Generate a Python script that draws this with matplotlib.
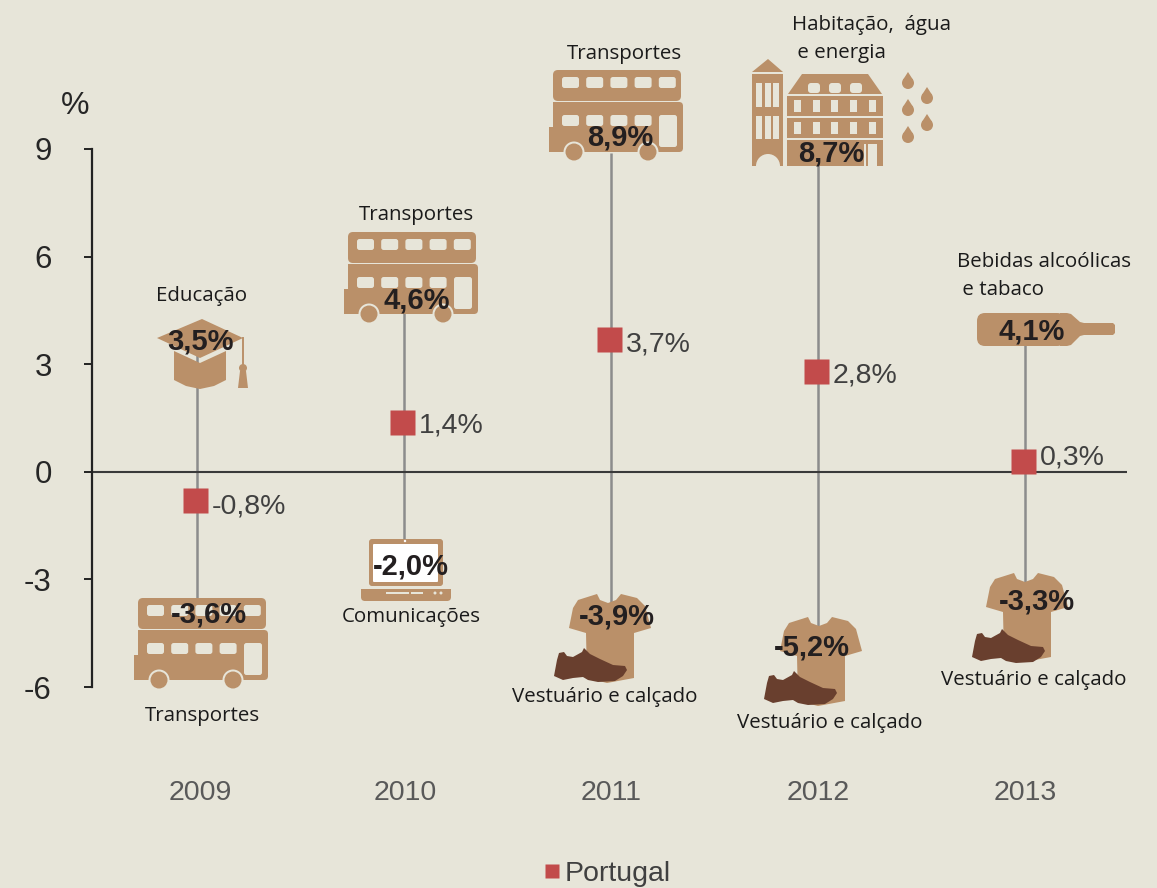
#!/usr/bin/env python3
import numpy as np
import matplotlib
matplotlib.use('Agg')
import matplotlib.pyplot as plt
from matplotlib.patches import Polygon, Rectangle, Circle, FancyBboxPatch, Wedge

# data
years = ['2009', '2010', '2011', '2012', '2013']
portugal = [-0.8, 1.4, 3.7, 2.8, 0.3]
highest = [3.5, 4.6, 8.9, 8.7, 4.1]
lowest = [-3.6, -2.0, -3.9, -5.2, -3.3]
high_names = ['Educação', 'Transportes', 'Transportes', 'Habitação,  água\n e energia',
              'Bebidas alcoólicas\n e tabaco']
low_names = ['Transportes', 'Comunicações', 'Vestuário e calçado', 'Vestuário e calçado',
             'Vestuário e calçado']
yticks = [-6, -3, 0, 3, 6, 9]

BG = '#E7E5D9'
ICON = '#BA9069'
SHOE = '#693F2E'
RED = '#C24B4B'
W, H = 1157, 888


def pct(v):
    return f'{v:.1f}%'.replace('.', ',')


def rect(ov, x, y, w, h, color=ICON, r=0.0, z=2):
    if r > 0:
        ov.add_patch(FancyBboxPatch((x + r, y + r), w - 2 * r, h - 2 * r,
                                    boxstyle=f'round,pad={r},rounding_size={r}',
                                    fc=color, ec='none', zorder=z))
    else:
        ov.add_patch(Rectangle((x, y), w, h, fc=color, ec='none', zorder=z))


def poly(ov, pts, color=ICON, z=2):
    ov.add_patch(Polygon(pts, closed=True, fc=color, ec='none', zorder=z))


def draw_bus(ov, x, y):
    rect(ov, x + 4, y, 128, 31, r=5)
    rect(ov, x + 4, y + 32, 130, 50, r=4)
    rect(ov, x + 4, y + 32, 60, 10)
    rect(ov, x + 60, y + 32, 70, 8)
    rect(ov, x, y + 57, 8, 25)
    for i in range(5):
        rect(ov, x + 13 + i * 24.2, y + 7, 17, 11, BG, r=2.5, z=3)
    for i in range(4):
        rect(ov, x + 13 + i * 24.2, y + 45, 17, 11, BG, r=2.5, z=3)
    rect(ov, x + 110, y + 45, 18, 32, BG, r=2.5, z=3)
    for wx in (25, 99):
        ov.add_patch(Circle((x + wx, y + 82), 10.5, fc=BG, ec='none', zorder=3))
        ov.add_patch(Circle((x + wx, y + 82), 8.5, fc=ICON, ec='none', zorder=4))


def draw_cap(ov):
    base = [(174, 351), (200, 363), (226, 351), (226, 380), (214, 386), (200, 389),
            (186, 386), (174, 380)]
    poly(ov, base)
    poly(ov, [(157, 338), (202, 319), (243, 338), (200, 358)])
    ov.plot([243, 243], [338, 368], color=ICON, lw=1.4, zorder=2)
    ov.add_patch(Circle((243, 368), 4, fc=ICON, ec='none', zorder=2))
    poly(ov, [(240, 371), (246, 371), (248, 388), (238, 388)])


def draw_laptop(ov):
    rect(ov, 369, 539, 74, 47, r=3)
    rect(ov, 373, 544, 65, 38, 'white', r=1, z=3)
    rect(ov, 361, 589, 90, 12, r=4)
    rect(ov, 361, 589, 90, 5)
    rect(ov, 386, 592, 23, 2, BG, z=3)
    rect(ov, 411, 592, 12, 2, BG, z=3)
    for dx in (435, 441):
        ov.add_patch(Circle((dx, 593), 1.5, fc=BG, ec='none', zorder=3))
    ov.add_patch(Circle((405, 541), 1.2, fc='white', ec='none', zorder=3))


def draw_shirt(ov, x, y):
    pts = [(28, 0), (31, 6), (39, 9), (47, 6), (52, 0), (68, 4), (76, 12), (82, 34),
           (65, 39), (65, 84), (38, 89), (18, 84), (17, 39), (0, 34), (4, 14), (9, 6)]
    poly(ov, [(x + a, y + b) for a, b in pts])


def draw_shoe(ov, x, y):
    pts = [(0, 28), (3, 12), (5, 5), (10, 4), (13, 8), (19, 9), (28, 4), (30, 0), (36, 6),
           (46, 11), (59, 17), (71, 18), (73, 22), (69, 28), (61, 33), (44, 34), (34, 32),
           (29, 29), (19, 30), (9, 32)]
    poly(ov, [(x + a, y + b) for a, b in pts], SHOE, z=3)


def draw_bottle(ov):
    rect(ov, 977, 313, 88, 33, r=8)
    poly(ov, [(1060, 313), (1067, 313), (1071, 314), (1080, 322), (1084, 323), (1113, 323),
              (1115, 325), (1115, 333), (1113, 335), (1084, 335), (1080, 336), (1071, 345),
              (1067, 346), (1060, 346)])


def draw_building(ov):
    # tower
    rect(ov, 752, 74, 31, 92)
    poly(ov, [(752, 72), (768, 59), (783, 72)])
    for wx in (756, 765, 773):
        rect(ov, wx, 83, 6, 24, BG, z=3)
        rect(ov, wx, 116, 6, 23, BG, z=3)
    ov.add_patch(Wedge((768, 166), 12, 180, 360, fc=BG, ec='none', zorder=3))
    # main house
    poly(ov, [(788, 94), (802, 74), (868, 74), (882, 94)])
    for dx in (808, 829, 850):
        rect(ov, dx, 83, 12, 10, BG, r=3, z=3)
    rect(ov, 787, 96, 96, 20)
    rect(ov, 787, 118, 96, 20)
    rect(ov, 787, 140, 96, 26)
    for wx in (794, 813, 831, 850, 869):
        rect(ov, wx, 100, 7, 12, BG, z=3)
        rect(ov, wx, 122, 7, 12, BG, z=3)
    rect(ov, 864, 144, 13, 22, BG, z=3)
    rect(ov, 866, 144, 1.5, 22, z=4)


def draw_drops(ov):
    for cx, cy in [(908, 83), (908, 110), (908, 137), (927, 98), (927, 125)]:
        ov.add_patch(Circle((cx, cy), 6, fc=ICON, ec='none', zorder=2))
        poly(ov, [(cx - 5.4, cy - 2.6), (cx, cy - 11), (cx + 5.4, cy - 2.6)])


fig = plt.figure(figsize=(W / 100, H / 100), dpi=100, facecolor=BG)

# data axes, placed so the scale falls on the reference pixels
x_left, x_right, y_top, y_bot = 92, 1127, 149, 687
ax = fig.add_axes([x_left / W, 1 - y_bot / H, (x_right - x_left) / W, (y_bot - y_top) / H])
ax.set_facecolor('none')
x0, step = 197, 207
ax.set_xlim((x_left - x0) / step, (x_right - x0) / step)
ax.set_ylim(-6, 9)
xs = np.arange(len(years))

ax.vlines(xs, lowest, highest, color='#8C8C8C', lw=1.8, zorder=1)
ax.axhline(0, color='#3A3A3A', lw=1.5, zorder=2)
ax.plot(xs - 0.009, portugal, ls='none', marker='s', ms=18, mfc=RED, mec='none', zorder=3,
        label='Portugal')

for s in ('top', 'right', 'bottom'):
    ax.spines[s].set_visible(False)
ax.spines['left'].set_color('#222222')
ax.spines['left'].set_linewidth(1.6)
ax.set_yticks(yticks)
ax.tick_params(axis='y', length=6, width=1.4, color='#222222', pad=23, labelsize=22.5,
               labelcolor='#262626', labelfontfamily='Liberation Sans')
ax.yaxis.set_major_formatter(plt.FuncFormatter(lambda v, p: f'{v:.0f}'))
# the year labels do not sit quite under the stems in the reference
ax.set_xticks(xs + np.array([0.015, 0.007, 0, 0, 0]))
ax.set_xticklabels(years, fontsize=20.5, color='#595959', family='Liberation Sans')
ax.tick_params(axis='x', length=0, pad=67)

# portugal value labels, offset from the marker in pixels
value_dy = [6, 3.5, 5.5, 4.5, -3.5]
for x, v, dy in zip(xs, portugal, value_dy):
    ax.annotate(pct(v), (x, v), xytext=(15 * 0.72, -dy * 0.72), textcoords='offset points',
                ha='left', va='center', fontsize=20.5, color='#404040',
                family='Liberation Sans', zorder=4)

leg = ax.legend(loc='center left', bbox_to_anchor=(538 / W, 1 - 874 / H),
                bbox_transform=fig.transFigure, frameon=False, markerscale=0.55,
                handlelength=1.0, handletextpad=-0.05, borderpad=0, borderaxespad=0,
                prop={'family': 'Liberation Sans', 'size': 20.5})
for t in leg.get_texts():
    t.set_color('#404040')

# overlay in pixel coordinates for the pictograms and their captions
ov = fig.add_axes([0, 0, 1, 1])
ov.set_xlim(0, W)
ov.set_ylim(H, 0)
ov.axis('off')
ov.patch.set_alpha(0)

draw_cap(ov)
draw_bus(ov, 344, 232)
draw_bus(ov, 549, 70)
draw_building(ov)
draw_drops(ov)
draw_bottle(ov)
draw_bus(ov, 134, 598)
draw_laptop(ov)
draw_shirt(ov, 569, 594)
draw_shoe(ov, 554, 648)
draw_shirt(ov, 780, 617)
draw_shoe(ov, 764, 671)
draw_shirt(ov, 986, 573)
draw_shoe(ov, 972, 629)

high_pos = [(201, 341), (417, 300), (620, 138), (831, 153), (1032, 331)]
low_pos = [(209, 614), (411, 566), (617, 616), (812, 647), (1037, 601)]
for (px, py), v in zip(high_pos + low_pos, highest + lowest):
    ov.text(px, py, pct(v), ha='center', va='center', fontsize=21, fontweight='bold',
            color='#231F20', family='Liberation Sans', zorder=6)

cap_font = dict(fontsize=14.75, color='#1A1A1A', family='Open Sans', zorder=6, linespacing=1.58)
high_cap = [(202, 296, 'center'), (416, 215, 'center'), (624, 54, 'center'), (792, 39, 'left'),
            (957, 276, 'left')]
low_cap = [(202, 716, 'center'), (411, 617, 'center'), (605, 697, 'center'), (830, 723, 'center'),
           (1034, 680, 'center')]
for (px, py, ha), name in zip(high_cap + low_cap, high_names + low_names):
    ov.text(px, py, name, ha=ha, va='center', **cap_font)

ov.text(75, 106, '%', ha='center', va='center', fontsize=23, color='#262626',
        family='Liberation Sans')

fig.savefig('out.png', dpi=100, facecolor=BG)
